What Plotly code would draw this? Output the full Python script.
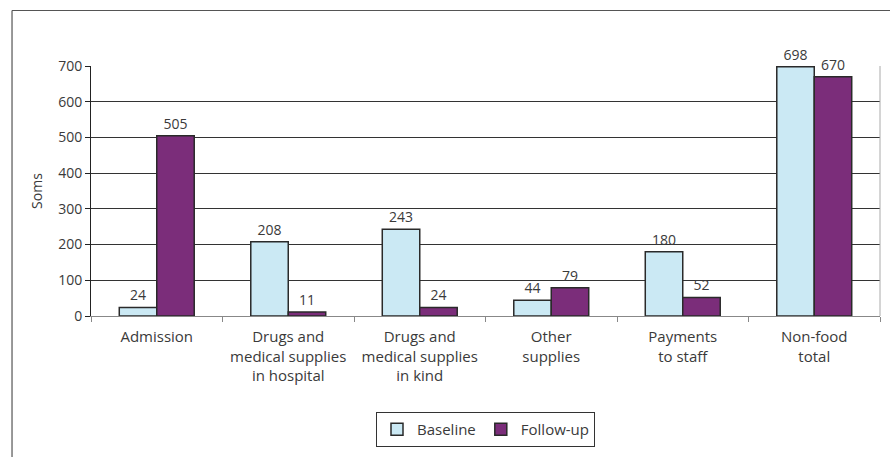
import plotly.graph_objects as go

# Non-food out-of-pocket spending per hospital stay (soms)
categories = [
    "Admission",
    "Drugs and<br>medical supplies<br>in hospital",
    "Drugs and<br>medical supplies<br>in kind",
    "Other<br>supplies",
    "Payments<br>to staff",
    "Non-food<br>total",
]
baseline = [24, 208, 243, 44, 180, 698]
follow_up = [505, 11, 24, 79, 52, 670]
y_ticks = [0, 100, 200, 300, 400, 500, 600, 700]

FONT = "Open Sans"
TEXT = "#3a3a3a"
EDGE = "#2a2a2a"

fig = go.Figure()
fig.add_trace(go.Bar(
    name="Baseline", x=categories, y=baseline,
    marker=dict(color="#cbe9f4", line=dict(color=EDGE, width=1.5)),
    text=[str(v) for v in baseline], textposition="outside",
    textfont=dict(family=FONT, size=14, color=TEXT), cliponaxis=False,
))
fig.add_trace(go.Bar(
    name="Follow-up", x=categories, y=follow_up,
    marker=dict(color="#7b2d7a", line=dict(color=EDGE, width=1.5)),
    text=[str(v) for v in follow_up], textposition="outside",
    textfont=dict(family=FONT, size=14, color=TEXT), cliponaxis=False,
))

fig.update_layout(
    width=890, height=457,
    margin=dict(l=91, r=10, t=66, b=141),
    paper_bgcolor="white", plot_bgcolor="white",
    barmode="group", bargap=0.43, bargroupgap=0,
    font=dict(family=FONT, size=14, color=TEXT),
    showlegend=True,
    legend=dict(
        orientation="h", x=0.5, xanchor="center", y=-0.384, yanchor="top",
        bordercolor="#333333", borderwidth=1, bgcolor="white",
        font=dict(family=FONT, size=15, color=TEXT),
        itemwidth=30, traceorder="normal",
    ),
    xaxis=dict(
        type="category", tickson="boundaries", ticks="outside", ticklen=5,
        tickcolor="#888888", showline=True, linecolor="#888888", linewidth=1,
        showgrid=False, tickfont=dict(family=FONT, size=15, color=TEXT),
        ticklabelstandoff=7,
    ),
    yaxis=dict(
        range=[0, 700], tickvals=y_ticks, ticks="outside", ticklen=5,
        tickcolor="#222222", showline=True, linecolor="#222222", linewidth=1,
        showgrid=True, gridcolor="#333333", gridwidth=1, zeroline=False,
        tickfont=dict(family=FONT, size=14, color=TEXT),
        title=dict(text="Soms", standoff=12, font=dict(family=FONT, size=14, color=TEXT)),
    ),
)

# Light right-hand border of the plotting area
fig.add_shape(type="line", xref="paper", yref="paper", x0=1, x1=1, y0=0, y1=1,
              line=dict(color="#aaaaaa", width=1))
# Outer frame (top and left edges)
fig.add_shape(type="line", xref="paper", yref="paper", x0=-0.1001, x1=1.02, y0=1.222, y1=1.222,
              line=dict(color="#555555", width=1.2))
fig.add_shape(type="line", xref="paper", yref="paper", x0=-0.1001, x1=-0.1001, y0=1.222, y1=-0.6,
              line=dict(color="#555555", width=1.2))

fig.write_html("out.html")
